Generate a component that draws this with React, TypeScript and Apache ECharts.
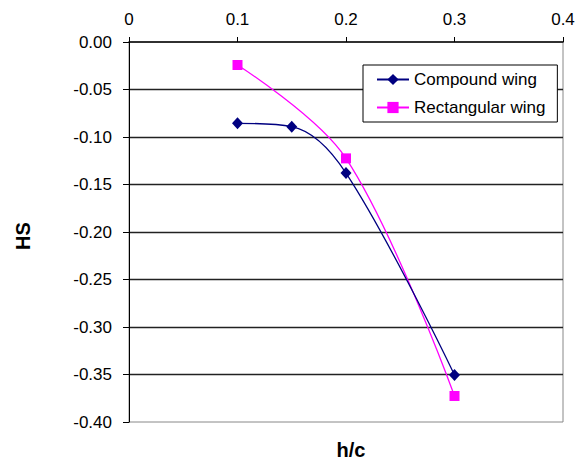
import React, { useEffect, useRef } from "react";
import * as echarts from "echarts";

const compoundX = [0.1, 0.15, 0.2, 0.3];
const compoundY = [-0.0856, -0.0891, -0.138, -0.3505];
const rectX = [0.1, 0.2, 0.3];
const rectY = [-0.0242, -0.1225, -0.3726];
const seriesNames = ["Compound wing", "Rectangular wing"];
const xTitle = "h/c";
const yTitle = "HS";

const FONT = "'Liberation Sans', Arial, sans-serif";

export default function App() {
  const ref = useRef<HTMLDivElement>(null);
  useEffect(() => {
    document.body.style.margin = "0";
    const chart = echarts.init(ref.current!, undefined, { renderer: "svg" });
    chart.setOption({
      animation: false,
      backgroundColor: "#ffffff",
      grid: {
        left: 129,
        top: 42,
        width: 434,
        height: 380,
        show: true,
        borderColor: "#888888",
        borderWidth: 1,
      },
      xAxis: {
        type: "value",
        position: "top",
        min: 0,
        max: 0.4,
        interval: 0.1,
        axisLine: { show: true, lineStyle: { color: "#000", width: 1.5 } },
        axisTick: { show: true, inside: false, length: 5, lineStyle: { color: "#000" } },
        axisLabel: {
          margin: 14,
          color: "#000",
          fontFamily: FONT,
          fontSize: 17,
          formatter: (v: number) => (v === 0 ? "0" : String(+v.toFixed(1))),
        },
        splitLine: { show: false },
      },
      yAxis: {
        type: "value",
        min: -0.4,
        max: 0,
        interval: 0.05,
        axisLine: { show: true, lineStyle: { color: "#000", width: 1 } },
        axisTick: { show: true, inside: false, length: 6, lineStyle: { color: "#000" } },
        axisLabel: {
          margin: 17,
          color: "#000",
          fontFamily: FONT,
          fontSize: 17,
          formatter: (v: number) => v.toFixed(2),
        },
        splitLine: {
          show: true,
          showMinLine: false,
          showMaxLine: false,
          lineStyle: { color: "#222", width: 1.3 },
        },
      },
      legend: {
        left: 363,
        top: 65,
        orient: "vertical",
        backgroundColor: "#ffffff",
        borderColor: "#000",
        borderWidth: 1,
        padding: [6, 12, 6, 13],
        itemWidth: 32,
        itemHeight: 14,
        itemGap: 11,
        textStyle: { color: "#000", fontFamily: FONT, fontSize: 17, lineHeight: 14 },
        data: seriesNames,
      },
      graphic: [
        {
          type: "text",
          x: 351,
          y: 450,
          style: {
            text: xTitle,
            fill: "#000",
            font: `bold 20px ${FONT}`,
            textAlign: "center",
            textVerticalAlign: "middle",
          },
        },
        {
          type: "text",
          x: 23,
          y: 236,
          rotation: Math.PI / 2,
          style: {
            text: yTitle,
            fill: "#000",
            font: `bold 20px ${FONT}`,
            textAlign: "center",
            textVerticalAlign: "middle",
          },
        },
      ],
      series: [
        {
          name: seriesNames[0],
          type: "line",
          smooth: 0.35,
          data: compoundX.map((x, i) => [x, compoundY[i]]),
          symbol: "diamond",
          symbolSize: [11, 12],
          lineStyle: { color: "#000080", width: 1.3 },
          itemStyle: { color: "#000080" },
          z: 3,
        },
        {
          name: seriesNames[1],
          type: "line",
          smooth: 0.35,
          data: rectX.map((x, i) => [x, rectY[i]]),
          symbol: "rect",
          symbolSize: 10,
          lineStyle: { color: "#FF00FF", width: 1.3 },
          itemStyle: { color: "#FF00FF" },
          z: 2,
        },
      ],
    });
    return () => chart.dispose();
  }, []);
  return (
    <div
      ref={ref}
      style={{ position: "absolute", left: 0, top: 0, width: 579, height: 465 }}
    />
  );
}
